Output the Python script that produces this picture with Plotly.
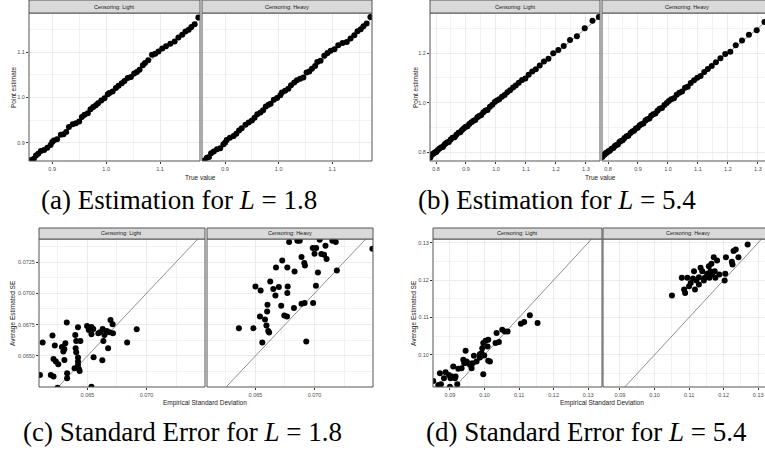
import plotly.graph_objects as go

# ---------------- data ----------------
facet_labels = ["Censoring: Light", "Censoring: Heavy"]
captions = ["(a) Estimation for <i>L</i> = 1.8", "(b) Estimation for <i>L</i> = 5.4",
            "(c) Standard Error for <i>L</i> = 1.8", "(d) Standard Error for <i>L</i> = 5.4"]
identity = [0.0, 2.0]

a_true = [0.861, 0.866, 0.870, 0.874, 0.879, 0.885, 0.891, 0.897, 0.900, 0.903,
          0.909, 0.916, 0.921, 0.926, 0.931, 0.938, 0.944, 0.950, 0.955, 0.960,
          0.966, 0.971, 0.976, 0.981, 0.985, 0.991, 0.997, 1.003, 1.006, 1.012,
          1.018, 1.023, 1.029, 1.034, 1.040, 1.046, 1.052, 1.057, 1.062, 1.068,
          1.072, 1.078, 1.085, 1.091, 1.097, 1.104, 1.111, 1.119, 1.127, 1.134,
          1.141, 1.147, 1.153, 1.158, 1.164, 1.171]
a_light = [0.862, 0.865, 0.872, 0.876, 0.882, 0.884, 0.889, 0.895, 0.902, 0.905,
           0.908, 0.918, 0.919, 0.924, 0.935, 0.941, 0.943, 0.947, 0.957, 0.962,
           0.965, 0.974, 0.979, 0.983, 0.987, 0.993, 0.998, 1.007, 1.010, 1.013,
           1.021, 1.026, 1.031, 1.036, 1.043, 1.045, 1.053, 1.056, 1.061, 1.071,
           1.076, 1.082, 1.094, 1.096, 1.101, 1.108, 1.113, 1.118, 1.123, 1.132,
           1.138, 1.145, 1.149, 1.155, 1.161, 1.176]
a_heavy = [0.861, 0.867, 0.869, 0.877, 0.881, 0.886, 0.888, 0.897, 0.900, 0.906,
           0.911, 0.915, 0.920, 0.927, 0.932, 0.940, 0.945, 0.949, 0.955, 0.963,
           0.967, 0.972, 0.980, 0.984, 0.986, 0.995, 0.999, 1.005, 1.011, 1.015,
           1.019, 1.027, 1.033, 1.038, 1.041, 1.044, 1.055, 1.057, 1.063, 1.069,
           1.078, 1.081, 1.092, 1.098, 1.103, 1.106, 1.115, 1.120, 1.122, 1.130,
           1.137, 1.146, 1.150, 1.157, 1.163, 1.177]

b_true = [0.781, 0.785, 0.789, 0.793, 0.797, 0.801, 0.806, 0.812, 0.818, 0.823,
          0.828, 0.833, 0.838, 0.843, 0.849, 0.855, 0.862, 0.868, 0.875, 0.881,
          0.887, 0.893, 0.899, 0.905, 0.911, 0.918, 0.925, 0.931, 0.938, 0.944,
          0.951, 0.958, 0.965, 0.972, 0.980, 0.988, 0.996, 1.003, 1.011, 1.020,
          1.029, 1.038, 1.047, 1.057, 1.066, 1.076, 1.087, 1.098, 1.109, 1.121,
          1.133, 1.146, 1.160, 1.175, 1.191, 1.208, 1.226, 1.247, 1.270, 1.296,
          1.322, 1.343]
b_light = [0.778, 0.788, 0.792, 0.795, 0.799, 0.800, 0.808, 0.815, 0.820, 0.821,
           0.830, 0.836, 0.840, 0.841, 0.851, 0.858, 0.860, 0.870, 0.878, 0.880,
           0.889, 0.896, 0.902, 0.904, 0.913, 0.921, 0.927, 0.930, 0.941, 0.946,
           0.950, 0.961, 0.968, 0.970, 0.983, 0.991, 1.002, 1.008, 1.013, 1.024,
           1.031, 1.042, 1.050, 1.061, 1.069, 1.080, 1.091, 1.097, 1.113, 1.126,
           1.135, 1.150, 1.166, 1.177, 1.199, 1.212, 1.229, 1.253, 1.268, 1.300,
           1.331, 1.346]
b_heavy = [0.780, 0.787, 0.790, 0.796, 0.798, 0.803, 0.805, 0.814, 0.817, 0.825,
           0.829, 0.831, 0.841, 0.845, 0.848, 0.857, 0.864, 0.866, 0.877, 0.883,
           0.886, 0.895, 0.898, 0.907, 0.912, 0.916, 0.928, 0.933, 0.936, 0.947,
           0.953, 0.956, 0.967, 0.975, 0.978, 0.990, 0.998, 1.006, 1.014, 1.018,
           1.032, 1.040, 1.045, 1.060, 1.064, 1.079, 1.090, 1.100, 1.107, 1.124,
           1.136, 1.148, 1.163, 1.179, 1.196, 1.205, 1.232, 1.251, 1.274, 1.292,
           1.326, 1.347]

c_light_x = [0.06098, 0.06121, 0.06204, 0.06224, 0.06213, 0.06233, 0.06253, 0.06190, 0.06213, 0.06247,
             0.06284, 0.06305, 0.06296, 0.06313, 0.06305, 0.06325, 0.06328, 0.06328, 0.06397, 0.06420,
             0.06405, 0.06440, 0.06400, 0.06405, 0.06420, 0.06420, 0.06420, 0.06391, 0.06428, 0.06434,
             0.06497, 0.06511, 0.06534, 0.06549, 0.06534, 0.06552, 0.06534, 0.06592, 0.06606, 0.06629,
             0.06644, 0.06635, 0.06626, 0.06664, 0.06675, 0.06695, 0.06713, 0.06716, 0.06836, 0.06917,
             0.06687]
c_light_y = [0.06348, 0.06607, 0.06663, 0.06583, 0.06476, 0.06455, 0.06433, 0.06348, 0.06335, 0.06246,
             0.06572, 0.06556, 0.06535, 0.06601, 0.06468, 0.06767, 0.06361, 0.06321, 0.06668, 0.06730,
             0.06620, 0.06620, 0.06561, 0.06529, 0.06487, 0.06455, 0.06428, 0.06401, 0.06396, 0.06380,
             0.06740, 0.06708, 0.06732, 0.06716, 0.06673, 0.06490, 0.06254, 0.06681, 0.06690, 0.06716,
             0.06668, 0.06620, 0.06465, 0.06700, 0.06561, 0.06788, 0.06754, 0.06681, 0.06607, 0.06713,
             0.06690]
c_heavy_x = [0.06360, 0.06483, 0.06500, 0.06544, 0.06558, 0.06538, 0.06581, 0.06593, 0.06602, 0.06599,
             0.06608, 0.06616, 0.06625, 0.06651, 0.06669, 0.06698, 0.06674, 0.06718, 0.06727, 0.06744,
             0.06767, 0.06773, 0.06770, 0.06770, 0.06785, 0.06831, 0.06826, 0.06855, 0.06875, 0.06890,
             0.06913, 0.06919, 0.06890, 0.06916, 0.06930, 0.06988, 0.07012, 0.07029, 0.06985, 0.07014,
             0.07000, 0.07044, 0.07058, 0.07081, 0.07093, 0.07102, 0.07151, 0.07180, 0.07189, 0.07490]
c_heavy_y = [0.06722, 0.06722, 0.07055, 0.07023, 0.06607, 0.06815, 0.06791, 0.06743, 0.06909, 0.06855,
             0.06700, 0.06687, 0.07095, 0.07034, 0.06983, 0.07050, 0.07207, 0.06901, 0.07263, 0.06823,
             0.06815, 0.07055, 0.07002, 0.07207, 0.07410, 0.07175, 0.06882, 0.07421, 0.07421, 0.07290,
             0.07242, 0.07223, 0.06916, 0.06922, 0.06615, 0.06922, 0.07061, 0.07167, 0.07362, 0.07362,
             0.07317, 0.07429, 0.07314, 0.07309, 0.07381, 0.07274, 0.07421, 0.07410, 0.07183, 0.07357]

d_light_x = [0.08518, 0.08663, 0.08740, 0.08711, 0.08827, 0.08875, 0.08971, 0.09019, 0.09067, 0.09096,
             0.09145, 0.09164, 0.09212, 0.09000, 0.09241, 0.09337, 0.09386, 0.09414, 0.09453, 0.09482,
             0.09530, 0.09578, 0.09627, 0.09646, 0.09694, 0.09771, 0.09867, 0.09916, 0.09935, 0.09964,
             0.09993, 0.09964, 0.10031, 0.10108, 0.10089, 0.10108, 0.10157, 0.10320, 0.10349, 0.10417,
             0.10513, 0.10590, 0.10667, 0.11053, 0.11149, 0.11313, 0.11535, 0.09867]
d_light_y = [0.09303, 0.09195, 0.09213, 0.09509, 0.09374, 0.09535, 0.09464, 0.09374, 0.09419, 0.09687,
             0.09374, 0.09419, 0.09213, 0.09150, 0.09625, 0.09643, 0.09867, 0.09777, 0.10108, 0.09821,
             0.09777, 0.09732, 0.09643, 0.09777, 0.09974, 0.09821, 0.09929, 0.10046, 0.10180, 0.10314,
             0.09983, 0.09482, 0.10377, 0.10404, 0.10225, 0.09840, 0.09822, 0.10314, 0.10583, 0.10341,
             0.10673, 0.10628, 0.10628, 0.10834, 0.10878, 0.11057, 0.10851, 0.10019]
d_heavy_x = [0.10505, 0.10790, 0.10857, 0.10886, 0.10952, 0.11000, 0.11048, 0.11114, 0.11143, 0.11171,
             0.11210, 0.11286, 0.11333, 0.11381, 0.11429, 0.11457, 0.11571, 0.11619, 0.11648, 0.11590,
             0.11667, 0.11714, 0.11743, 0.11762, 0.11810, 0.11876, 0.12030, 0.12048, 0.12067, 0.12238,
             0.12286, 0.12352, 0.12429, 0.12695, 0.12257, 0.11524, 0.11286]
d_heavy_y = [0.11586, 0.12060, 0.11747, 0.11657, 0.12060, 0.11836, 0.11926, 0.12042, 0.12239, 0.11747,
             0.11988, 0.12078, 0.12329, 0.12239, 0.11988, 0.12060, 0.12373, 0.12239, 0.12436, 0.12060,
             0.12150, 0.12615, 0.12239, 0.12060, 0.12526, 0.12150, 0.11988, 0.12167, 0.12615, 0.12490,
             0.12776, 0.12820, 0.12615, 0.12955, 0.12418, 0.12167, 0.11881]

# ---------------- layout helpers ----------------
W, H = 765, 450
def PX(v): return v / W
def PY(v): return 1 - v / H

SANS = "Liberation Sans, Arial, sans-serif"
SERIF = "Liberation Serif, DejaVu Serif, serif"
TICKC = "#4d4d4d"
BORDER = "#555555"

panels = [
    dict(data=[(a_true, a_light), (a_true, a_heavy)],
         facets=[(29, 200), (202, 372)], plot_y=(13, 161), strip_y=(0, 13),
         xr=[0.857, 1.174], yr=[0.860, 1.186], xd=0.1, x0=0.9, yd=0.1, y0=0.9,
         xf=".1f", yf=".1f", xtitle="True value", ytitle="Point estimate",
         xt_pos=(200, 177), yt_pos=(13, 87), cap_pos=(179, 200), cap=captions[0]),
    dict(data=[(b_true, b_light), (b_true, b_heavy)],
         facets=[(430, 600), (602, 772)], plot_y=(13, 161), strip_y=(0, 13),
         xr=[0.780, 1.347], yr=[0.764, 1.362], xd=0.1, x0=0.8, yd=0.2, y0=0.8,
         xf=".1f", yf=".1f", xtitle="True value", ytitle="Point estimate",
         xt_pos=(600, 177), yt_pos=(415, 87), cap_pos=(557, 200), cap=captions[1]),
    dict(data=[(c_light_x, c_light_y), (c_heavy_x, c_heavy_y)],
         facets=[(39, 205), (207, 373)], plot_y=(239, 387), strip_y=(228, 239),
         xr=[0.06090, 0.07495], yr=[0.06252, 0.07434], xd=0.005, x0=0.065, yd=0.0025, y0=0.065,
         xf=".3f", yf=".4f", xtitle="Empirical Standard Deviation", ytitle="Average Estimated SE",
         xt_pos=(205, 403), yt_pos=(13, 313), cap_pos=(182, 432), cap=captions[2]),
    dict(data=[(d_light_x, d_light_y), (d_heavy_x, d_heavy_y)],
         facets=[(433, 602), (603, 772)], plot_y=(239, 387), strip_y=(228, 239),
         xr=[0.0851, 0.1340], yr=[0.0914, 0.1310], xd=0.01, x0=0.09, yd=0.01, y0=0.10,
         xf=".2f", yf=".2f", xtitle="Empirical Standard Deviation", ytitle="Average Estimated SE",
         xt_pos=(602, 403), yt_pos=(414, 313), cap_pos=(586, 432), cap=captions[3]),
]

fig = go.Figure()
layout = dict(width=W, height=H, margin=dict(l=0, r=0, t=0, b=0),
              paper_bgcolor="white", plot_bgcolor="white", showlegend=False)
shapes, annotations = [], []

idx = 0
for p in panels:
    for f, ((fx0, fx1), (xs, ys)) in enumerate(zip(p["facets"], p["data"])):
        idx += 1
        sfx = "" if idx == 1 else str(idx)
        xr0, xr1 = p["xr"]
        full_w = fx1 - fx0
        vis_x1 = min(fx1, W)
        xr1_vis = xr0 + (xr1 - xr0) * (vis_x1 - fx0) / full_w
        layout["xaxis" + sfx] = dict(
            domain=[PX(fx0), PX(vis_x1)], range=[xr0, xr1_vis], anchor="y" + sfx,
            tickmode="linear", tick0=p["x0"], dtick=p["xd"], tickformat=p["xf"],
            showgrid=True, gridcolor="#ebebeb", gridwidth=0.8, zeroline=False, showline=False,
            ticks="outside", ticklen=2, tickwidth=0.6, tickcolor="#333333",
            tickfont=dict(family=SANS, size=5.5, color=TICKC),
            minor=dict(tick0=p["x0"] - p["xd"] / 2, dtick=p["xd"], showgrid=True,
                       gridcolor="#f2f2f2", gridwidth=0.5, ticks=""),
        )
        yax = dict(
            domain=[PY(p["plot_y"][1]), PY(p["plot_y"][0])], range=p["yr"], anchor="x" + sfx,
            tickmode="linear", tick0=p["y0"], dtick=p["yd"], tickformat=p["yf"],
            showgrid=True, gridcolor="#ebebeb", gridwidth=0.8, zeroline=False, showline=False,
            tickfont=dict(family=SANS, size=5.5, color=TICKC),
            minor=dict(tick0=p["y0"] - p["yd"] / 2, dtick=p["yd"], showgrid=True,
                       gridcolor="#f2f2f2", gridwidth=0.5, ticks=""),
        )
        if f == 0:
            yax.update(ticks="outside", ticklen=2, tickwidth=0.6, tickcolor="#333333",
                       showticklabels=True)
        else:
            yax.update(ticks="", showticklabels=False)
        layout["yaxis" + sfx] = yax

        fig.add_trace(go.Scatter(x=identity, y=identity, mode="lines",
                                 line=dict(color="#444444", width=0.6),
                                 xaxis="x" + sfx, yaxis="y" + sfx, hoverinfo="skip"))
        fig.add_trace(go.Scatter(x=xs, y=ys, mode="markers",
                                 marker=dict(color="black", size=6, line=dict(width=0)),
                                 xaxis="x" + sfx, yaxis="y" + sfx))

        shapes.append(dict(type="rect", xref="paper", yref="paper",
                           x0=PX(fx0), x1=PX(fx1), y0=PY(p["plot_y"][1]), y1=PY(p["plot_y"][0]),
                           line=dict(color=BORDER, width=1), fillcolor="rgba(0,0,0,0)", layer="above"))
        shapes.append(dict(type="rect", xref="paper", yref="paper",
                           x0=PX(fx0), x1=PX(fx1), y0=PY(p["strip_y"][1]), y1=PY(p["strip_y"][0]),
                           line=dict(color=BORDER, width=1), fillcolor="#d9d9d9", layer="above"))
        annotations.append(dict(xref="paper", yref="paper",
                                x=PX((fx0 + fx1) / 2), y=PY(sum(p["strip_y"]) / 2),
                                text=facet_labels[f], showarrow=False,
                                font=dict(family=SANS, size=5.5, color="#1a1a1a"),
                                xanchor="center", yanchor="middle"))
    annotations.append(dict(xref="paper", yref="paper", x=PX(p["xt_pos"][0]), y=PY(p["xt_pos"][1]),
                            text=p["xtitle"], showarrow=False,
                            font=dict(family=SANS, size=6.5, color="#1a1a1a"),
                            xanchor="center", yanchor="middle"))
    annotations.append(dict(xref="paper", yref="paper", x=PX(p["yt_pos"][0]), y=PY(p["yt_pos"][1]),
                            text=p["ytitle"], showarrow=False, textangle=-90,
                            font=dict(family=SANS, size=6.5, color="#1a1a1a"),
                            xanchor="center", yanchor="middle"))
    annotations.append(dict(xref="paper", yref="paper", x=PX(p["cap_pos"][0]), y=PY(p["cap_pos"][1]),
                            text=p["cap"], showarrow=False,
                            font=dict(family=SERIF, size=27, color="black"),
                            xanchor="center", yanchor="middle"))

layout["shapes"] = shapes
layout["annotations"] = annotations
fig.update_layout(**layout)
fig.write_html("out.html", config={"displayModeBar": False},
               post_script="document.body.style.margin='0';")
